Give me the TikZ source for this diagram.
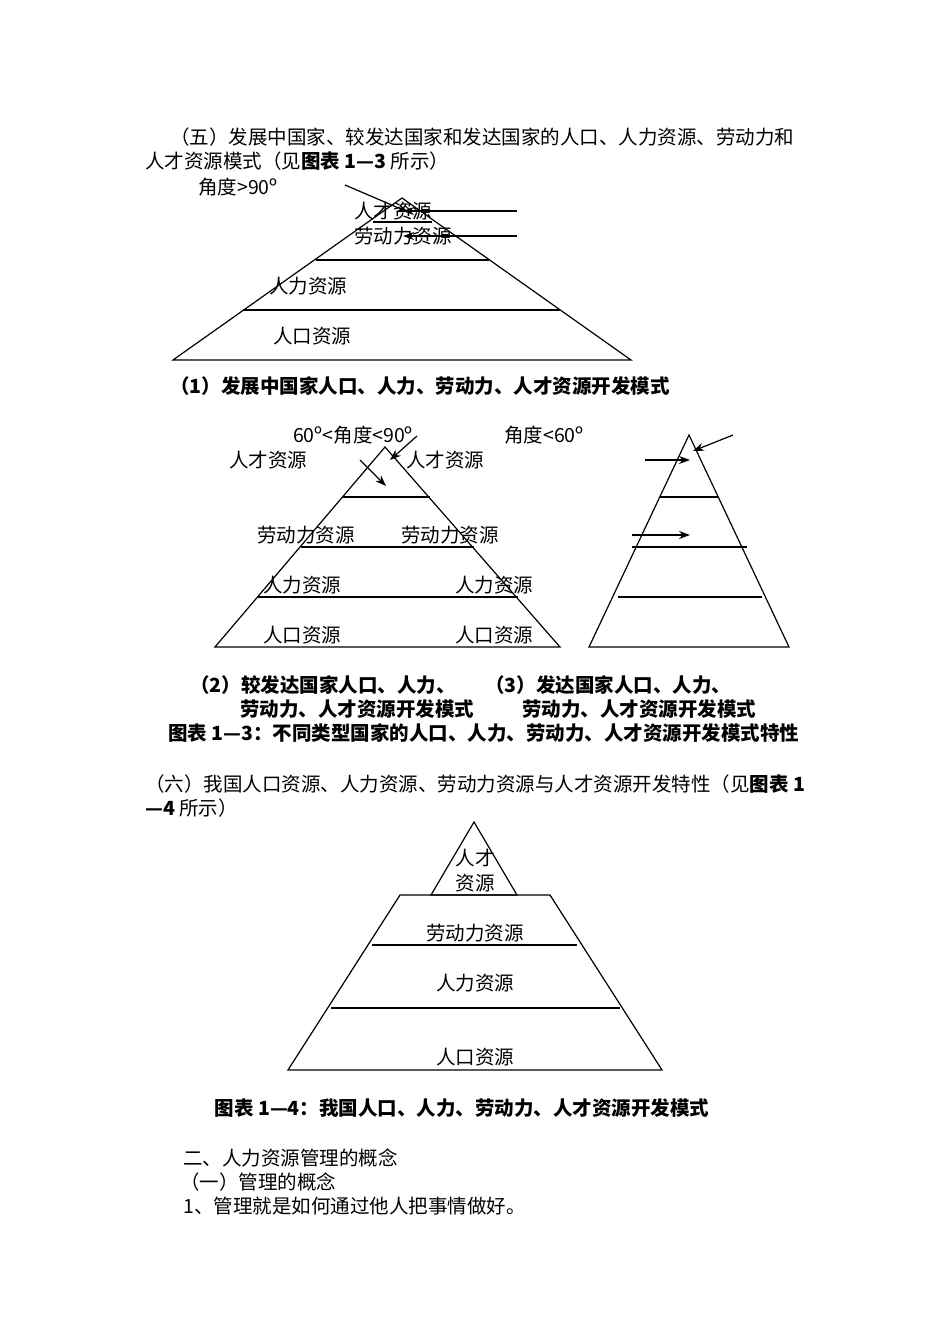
\documentclass[tikz,border=0pt]{standalone}
\usepackage{fontspec}
\setmainfont{Noto Sans CJK SC}
\usetikzlibrary{arrows.meta}
\begin{document}
\begin{tikzpicture}[x=1pt,y=-1pt,
  t/.style={font=\fontsize{19.5}{22}\selectfont,inner sep=0pt},
  tl/.style={t,anchor=west},
  captxt/.style={t,anchor=west,font=\fontsize{19.5}{22}\selectfont\bfseries},
  ln/.style={line width=1.2pt},
  ar/.style={line width=1.2pt,-{Stealth[length=11pt,width=8pt]}}]
\useasboundingbox (0,0) rectangle (950,1344);
% intro text
\node[tl] (p5a) at (170,137) {（五）发展中国家、较发达国家和发达国家的人口、人力资源、劳动力和};
\node[tl] (p5b) at (145,161) {人才资源模式（见\textbf{图表 1—3} 所示）};
% pyramid 1
\draw[ln] (402,198) -- (631,360) -- (173,360) -- cycle;
\draw[ln] (373,222) -- (432,222);
\draw[ln] (316,260) -- (489,260);
\draw[ln] (243,310) -- (560,310);
\node[t] (a1) at (238,187) {角度>90º};
\node[t] (r1) at (393,211) {人才资源};
\node[t] (l1) at (403,236) {劳动力资源};
\node[t] (h1) at (308,286) {人力资源};
\node[t] (k1) at (312,336) {人口资源};
\coordinate (s1) at (345,185);\coordinate (e1) at (408,212);
\coordinate (s2) at (517,211);\coordinate (e2) at (403,211);
\coordinate (s3) at (517,236);\coordinate (e3) at (403,236);
\draw[ar] (s1) -- (e1);
\draw[ar] (s2) -- (e2);
\draw[ar] (s3) -- (e3);
\node[captxt] (c1) at (170,386) {（1）发展中国家人口、人力、劳动力、人才资源开发模式};
% pyramid 2
\draw[ln] (385,447) -- (560,647) -- (215,647) -- cycle;
\draw[ln] (343,497) -- (430,497);
\draw[ln] (301,547) -- (474,547);
\draw[ln] (258,597) -- (518,597);
\node[t] (a2) at (353,435) {60º<角度<90º};
\node[t] (r2a) at (268,460) {人才资源};
\node[t] (r2b) at (445,460) {人才资源};
\node[t] (l2a) at (306,535) {劳动力资源};
\node[t] (l2b) at (450,535) {劳动力资源};
\node[t] (h2a) at (302,585) {人力资源};
\node[t] (h2b) at (494,585) {人力资源};
\node[t] (k2a) at (302,635) {人口资源};
\node[t] (k2b) at (494,635) {人口资源};
\coordinate (s4) at (417,436);\coordinate (e4) at (390,460);
\coordinate (s5) at (360,460);\coordinate (e5) at (386,486);
\draw[ar] (s4) -- (e4);
\draw[ar] (s5) -- (e5);
% pyramid 3
\node[t] (a3) at (544,435) {角度<60º};
\draw[ln] (689,435) -- (789,647) -- (589,647) -- cycle;
\draw[ln] (660,497) -- (718,497);
\draw[ln] (632,547) -- (747,547);
\draw[ln] (618,597) -- (762,597);
\coordinate (s6) at (733,435);\coordinate (e6) at (693,451);
\coordinate (s7) at (645,460);\coordinate (e7) at (690,460);
\coordinate (s8) at (632,535);\coordinate (e8) at (690,535);
\draw[ar] (s6) -- (e6);
\draw[ar] (s7) -- (e7);
\draw[ar] (s8) -- (e8);
\node[captxt] (c2a) at (190,685) {（2）较发达国家人口、人力、};
\node[captxt] (c2b) at (240,709) {劳动力、人才资源开发模式};
\node[captxt] (c3a) at (485,685) {（3）发达国家人口、人力、};
\node[captxt] (c3b) at (522,709) {劳动力、人才资源开发模式};
\node[captxt] (c4) at (168,733) {图表 1—3：不同类型国家的人口、人力、劳动力、人才资源开发模式特性};
% text 6
\node[tl] (p6a) at (145,784) {（六）我国人口资源、人力资源、劳动力资源与人才资源开发特性（见\textbf{图表 1}};
\node[tl] (p6b) at (145,808) {\textbf{—4} 所示）};
% pyramid 4
\draw[ln] (474,822) -- (517,895) -- (431,895) -- cycle;
\draw[ln] (400,895) -- (550,895) -- (662,1070) -- (288,1070) -- cycle;
\draw[ln] (372,945) -- (577,945);
\draw[ln] (331,1008) -- (620,1008);
\node[t] (r4a) at (475,858) {人才};
\node[t] (r4b) at (475,883) {资源};
\node[t] (l4) at (475,933) {劳动力资源};
\node[t] (h4) at (475,983) {人力资源};
\node[t] (k4) at (475,1057) {人口资源};
\node[captxt,anchor=center] (c5) at (462,1108) {图表 1—4：我国人口、人力、劳动力、人才资源开发模式};
\node[tl] (q1) at (183,1158) {二、人力资源管理的概念};
\node[tl] (q2) at (180,1182) {（一）管理的概念};
\node[tl] (q3) at (183,1206) {1、管理就是如何通过他人把事情做好。};
\end{tikzpicture}
\end{document}
